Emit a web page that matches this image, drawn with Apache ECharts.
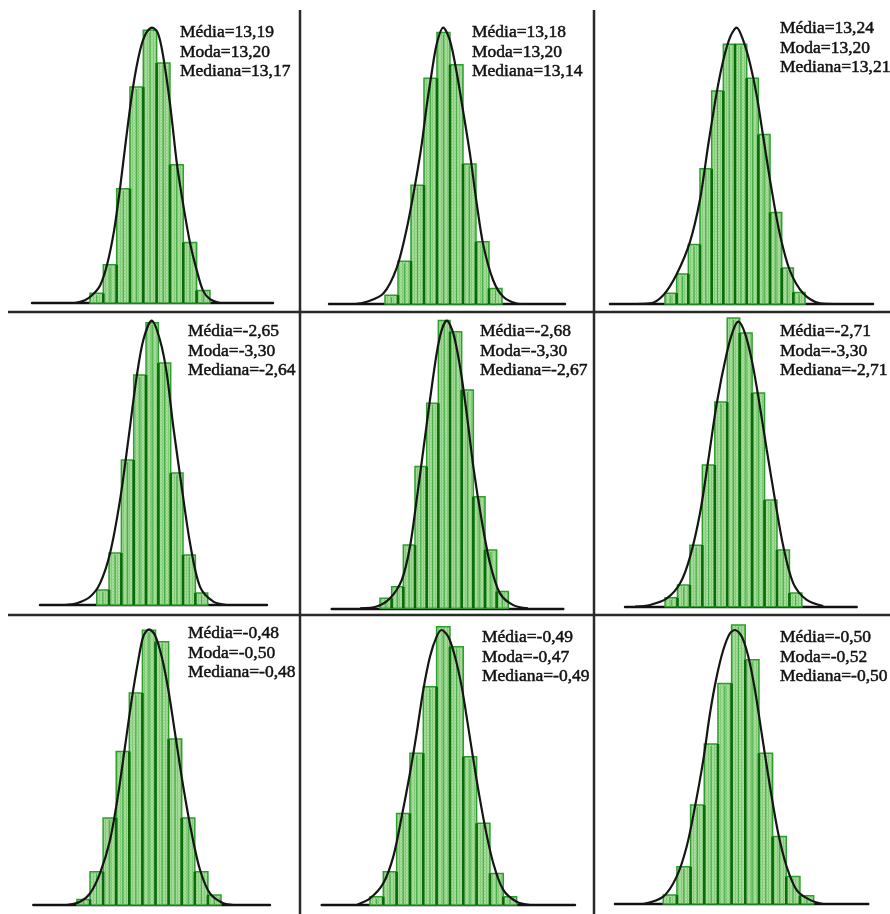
<!DOCTYPE html>
<html>
<head>
<meta charset="utf-8">
<script src="https://cdn.jsdelivr.net/npm/echarts@6/dist/echarts.min.js"></script>
<style>
  html, body { margin: 0; padding: 0; background: #fff; }
  #chart { width: 890px; height: 914px; }
</style>
</head>
<body>
<div id="chart"></div>
<script>
// statistics printed in each panel
const stats = [
  ["Média=13,19", "Moda=13,20", "Mediana=13,17"],
  ["Média=13,18", "Moda=13,20", "Mediana=13,14"],
  ["Média=13,24", "Moda=13,20", "Mediana=13,21"],
  ["Média=-2,65", "Moda=-3,30", "Mediana=-2,64"],
  ["Média=-2,68", "Moda=-3,30", "Mediana=-2,67"],
  ["Média=-2,71", "Moda=-3,30", "Mediana=-2,71"],
  ["Média=-0,48", "Moda=-0,50", "Mediana=-0,48"],
  ["Média=-0,49", "Moda=-0,47", "Mediana=-0,49"],
  ["Média=-0,50", "Moda=-0,52", "Mediana=-0,50"]
];

// histogram heights per class (relative frequency, curve peak = 100)
const hist1 = [3.5, 13.9, 41.5, 78.4, 99, 87.1, 50.2, 22, 4.5];
const hist2 = [3.2, 15.5, 43, 81.7, 98.2, 86.6, 50.7, 22.5, 5.6];
const hist3 = [3.9, 10.9, 21.5, 48.9, 77.1, 94, 94, 81.7, 61.3, 33.1, 13, 4.2];
const hist4 = [5.3, 18.3, 51, 80.9, 99.3, 85.1, 46.4, 17.6, 4.2];
const hist5 = [3.5, 7.5, 22, 49.3, 71.3, 100.1, 96.2, 75.9, 38.8, 20.3, 5.8];
const hist6 = [3.1, 7.6, 21.6, 49.7, 71.8, 101.3, 96, 75, 37.4, 19.9, 4.8];
const hist7 = [2, 12.1, 31.6, 55.7, 76.9, 99.7, 95.5, 60.2, 31.6, 12.1, 3.6];
const hist8 = [3, 12.1, 33.3, 55.2, 79.4, 101.2, 93.9, 53.9, 29.7, 11.5, 3];
const hist9 = [3.3, 13.6, 36.1, 58.4, 80.5, 101.8, 89.1, 55, 24.6, 10, 3];
// first class index of each histogram
const firstClass = [0, 0, 0, 0, 0, 0, -1, 0, 0];

// fitted curves: [class position, height]
const curve1 = [[-1.13,0],[-0.38,1],[0.15,2.8],[0.75,6.3],[1.28,13.9],[1.8,26.1],[2.25,41.5],[2.7,59.2],[3.23,78.4],[3.75,91.6],[4.2,97.9],[4.65,100],[5.1,97.9],[5.48,89.9],[6,72.5],[6.53,50.2],[7.05,34.1],[7.5,22],[8.03,11.5],[8.48,4.5],[9,1.4],[9.75,0]];
const curve2 = [[-2.3,0],[-1.41,0.8],[-0.13,3.8],[0.9,13.1],[1.67,27.2],[2.31,43.1],[2.82,57.7],[3.21,71.8],[3.59,83.6],[3.98,94.1],[4.48,100],[5,95.3],[5.52,83.6],[6.02,69.5],[6.54,54.2],[7.05,36.6],[7.56,21.4],[8.33,8.5],[9.1,2.6],[10.13,0.2],[10.77,0]];
const curve3 = [[-2.57,0],[-1.29,0.2],[-0.15,3.2],[1,10.8],[2.14,22.5],[3,37.8],[3.71,57.7],[4.43,76.5],[5,88.3],[5.57,96.5],[6.14,100],[6.71,95.3],[7.28,87.1],[7.86,75.4],[8.43,60.1],[9.14,41.3],[9.86,24.9],[10.71,12],[11.85,3.8],[13.28,0.2],[14.57,0]];
const curve4 = [[-2.57,0],[-1.62,0.6],[-0.54,2.9],[0.27,7.6],[1.08,18.2],[1.89,36.9],[2.56,58],[3.24,80.3],[3.78,93.2],[4.46,100],[5.13,93.2],[5.68,81.5],[6.21,62.7],[6.89,41.6],[7.57,21.7],[8.38,6.4],[9.46,1.2],[10.54,0]];
const curve5 = [[-1.71,0],[-0.28,0.6],[0.86,3.5],[1.86,9.8],[2.57,21.4],[3.14,37.7],[3.71,55],[4.28,72.4],[4.86,88.7],[5.29,96.8],[5.72,100],[6.28,95.6],[6.86,84],[7.43,67.8],[8,49.2],[8.71,30.7],[9.43,15.6],[10.28,5.2],[11.42,1.1],[12.68,0]];
const curve6 = [[-2.41,0],[-1.21,0.6],[0.14,2.9],[1.21,8.2],[2.01,17.5],[2.81,32.8],[3.48,51.5],[4.16,71.4],[4.96,88.9],[5.49,97.1],[5.89,100],[6.43,95.9],[6.97,86.6],[7.5,73.7],[8.18,55],[8.84,37.5],[9.51,21.1],[10.31,8.2],[11.39,2.4],[12.72,0.2]];
const curve7 = [[-1.78,0],[-0.76,1.2],[0,4.2],[0.76,11.5],[1.53,23.6],[2.16,40.5],[2.67,57.4],[3.18,74.4],[3.69,88.9],[4.07,97.4],[4.5,100],[4.96,97.9],[5.47,90.1],[5.98,78],[6.49,62.3],[7.12,42.9],[7.76,26],[8.4,12.7],[9.16,4.2],[10.18,0.6],[10.93,0]];
const curve8 = [[-1,0],[0,2.4],[1,7.9],[1.75,17.6],[2.38,32.1],[3,47.9],[3.5,62.4],[4,78.2],[4.5,90.3],[5,97.6],[5.38,100],[5.87,97.6],[6.38,90.3],[6.88,79.4],[7.37,64.8],[8,45.5],[8.63,28.5],[9.25,15.2],[10,5.5],[11,1.2],[12,0]];
const curve9 = [[-1.46,0],[0,2.7],[0.98,10],[1.71,20.9],[2.32,35.5],[2.93,52.6],[3.42,69.6],[3.91,83],[4.39,92.7],[4.88,98.8],[5.25,100],[5.74,97.6],[6.22,90.3],[6.71,78.1],[7.2,62.3],[7.81,42.8],[8.41,25.8],[9.03,13.6],[9.76,5.1],[10.73,1.5],[11.7,0]];

// x range (in classes) covered by each baseline
const classRange = [[-4.35,13.73],[-4.31,13.85],[-4.71,17.82],[-4.6,13.81],[-4.14,15.71],[-3.22,15.41],[-4.33,13.74],[-3.62,15.38],[-3.53,15.0]];

const hists = [hist1, hist2, hist3, hist4, hist5, hist6, hist7, hist8, hist9];
const curves = [curve1, curve2, curve3, curve4, curve5, curve6, curve7, curve8, curve9];

// panel placement in pixels: baseline left/right, baseline y, height of curve peak
const layout = [
  { l: 32, r: 273, base: 303, h: 287, tx: 180, ty: 23 },
  { l: 329, r: 565, base: 304, h: 284, tx: 472, ty: 23 },
  { l: 610, r: 873, base: 304, h: 284, tx: 780, ty: 19 },
  { l: 40, r: 267, base: 605, h: 284.3, tx: 188, ty: 322 },
  { l: 331.7, r: 563.3, base: 608.3, h: 287.6, tx: 480, ty: 322 },
  { l: 625, r: 856.7, base: 606.7, h: 285, tx: 780, ty: 322 },
  { l: 33.3, r: 270, base: 905, h: 275.7, tx: 188, ty: 624 },
  { l: 321.7, r: 575, base: 905, h: 275, tx: 482, ty: 628 },
  { l: 615, r: 868.3, base: 904, h: 274, tx: 780, ty: 628 }
];
const Y_MAX = 110;

// hatched light green fill
const tile = document.createElement("canvas");
tile.width = 3; tile.height = 3;
const tc = tile.getContext("2d");
tc.fillStyle = "#a9dd9e"; tc.fillRect(0, 0, 3, 3);
tc.fillStyle = "#7cc871"; tc.fillRect(0, 0, 1, 3);
tc.fillStyle = "#94d389"; tc.fillRect(0, 0, 3, 1);
const hatch = { image: tile, repeat: "repeat" };

function barRenderer(values, first) {
  return function (params, api) {
    const k = api.value(0);
    const v = api.value(1);
    const i = k - first;
    const prev = i > 0 ? values[i - 1] : 0;
    const bl = api.coord([k, 0]);
    const tr = api.coord([k + 1, v]);
    const edgeTop = api.coord([k, Math.min(v, prev)]);
    const w = tr[0] - bl[0];
    return {
      type: "group",
      children: [
        { type: "rect", shape: { x: bl[0], y: tr[1], width: w, height: bl[1] - tr[1] },
          style: { fill: hatch, stroke: "#2e9f2e", lineWidth: 1.5 } },
        { type: "line", shape: { x1: bl[0] + w / 2, y1: bl[1], x2: bl[0] + w / 2, y2: tr[1] + 2 },
          style: { stroke: "#49b049", lineWidth: 1.2 } },
        { type: "line", shape: { x1: bl[0], y1: bl[1], x2: bl[0], y2: edgeTop[1] },
          style: { stroke: "#086a08", lineWidth: 2.6 } }
      ]
    };
  };
}

const grid = [], xAxis = [], yAxis = [], series = [], title = [];
layout.forEach((p, n) => {
  grid.push({ left: p.l, top: p.base - p.h * Y_MAX / 100, width: p.r - p.l, height: p.h * Y_MAX / 100 });
  xAxis.push({
    type: "value", gridIndex: n, min: classRange[n][0], max: classRange[n][1],
    axisLine: { show: true, lineStyle: { color: "#111", width: 2.4 } },
    axisTick: { show: false }, axisLabel: { show: false }, splitLine: { show: false }
  });
  yAxis.push({ type: "value", gridIndex: n, min: 0, max: Y_MAX, show: false });
  const vals = hists[n];
  series.push({
    type: "custom", xAxisIndex: n, yAxisIndex: n, z: 2,
    renderItem: barRenderer(vals, firstClass[n]),
    data: vals.map((v, i) => [firstClass[n] + i, v]),
    silent: true
  });
  series.push({
    type: "line", xAxisIndex: n, yAxisIndex: n, z: 4,
    data: curves[n], smooth: 0.3, showSymbol: false, silent: true,
    lineStyle: { color: "#151515", width: 2.2 }
  });
  title.push({
    text: stats[n].join("\n"), left: p.tx, top: p.ty, padding: 0,
    textStyle: {
      fontFamily: "Liberation Serif", fontSize: 17.5, fontWeight: "normal", color: "#111",
      lineHeight: 19.5, textBorderColor: "#111", textBorderWidth: 0.5
    }
  });
});

// panel separators
const sep = { stroke: "#2a2a2a", lineWidth: 2.5 };
const graphic = [
  { type: "line", shape: { x1: 300, y1: 10, x2: 300, y2: 914 }, style: sep },
  { type: "line", shape: { x1: 594, y1: 10, x2: 594, y2: 914 }, style: sep },
  { type: "line", shape: { x1: 8, y1: 312, x2: 890, y2: 312 }, style: sep },
  { type: "line", shape: { x1: 8, y1: 615, x2: 890, y2: 615 }, style: sep }
];

const chart = echarts.init(document.getElementById("chart"));
chart.setOption({
  animation: false,
  backgroundColor: "#fff",
  title, grid, xAxis, yAxis, series, graphic
});
</script>
</body>
</html>
